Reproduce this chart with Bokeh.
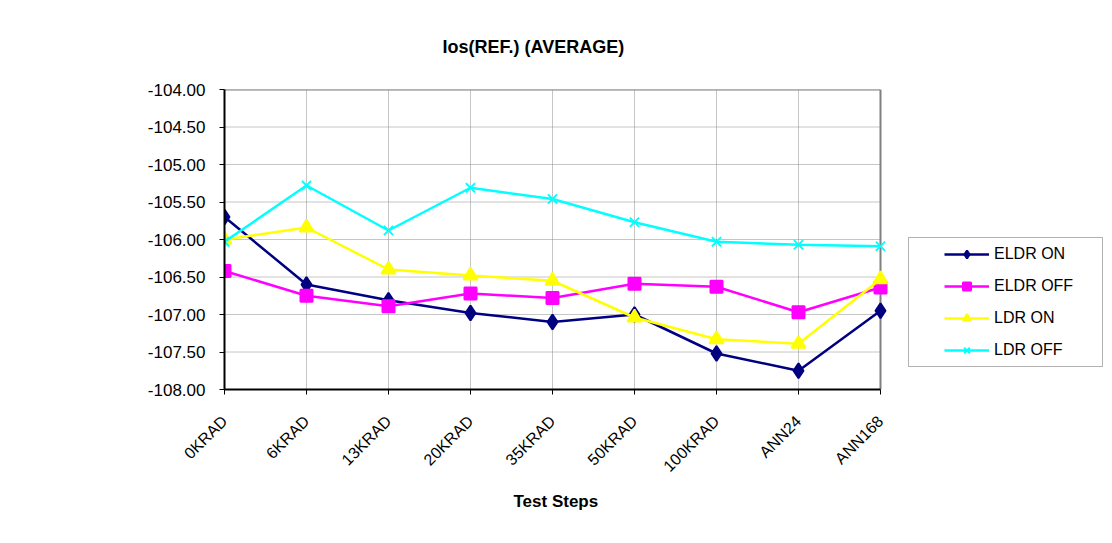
from bokeh.plotting import figure
from bokeh.models import (Range1d, FixedTicker, Legend, LegendItem, ColumnDataSource,
                          BoxAnnotation, Title)
from bokeh.embed import file_html
from bokeh.resources import INLINE
import math

steps = ["0KRAD", "6KRAD", "13KRAD", "20KRAD", "35KRAD", "50KRAD", "100KRAD", "ANN24", "ANN168"]
eldr_on = [-105.70, -106.60, -106.81, -106.98, -107.10, -107.00, -107.52, -107.75, -106.95]
eldr_off = [-106.42, -106.75, -106.89, -106.72, -106.78, -106.59, -106.63, -106.97, -106.64]
ldr_on = [-106.00, -105.84, -106.40, -106.48, -106.55, -107.04, -107.33, -107.39, -106.53]
ldr_off = [-106.03, -105.28, -105.88, -105.31, -105.46, -105.77, -106.03, -106.07, -106.09]
y_ticks = [-108.0, -107.5, -107.0, -106.5, -106.0, -105.5, -105.0, -104.5, -104.0]

FONT = "Liberation Sans"
xs = list(range(len(steps)))
x_last = len(steps) - 1
y_min, y_max = y_ticks[0], y_ticks[-1]

# frame spans plot area + legend area; data occupies 656 of 880 px
PX_PER_STEP = 82.0
FRAME_W = 880.0
p = figure(width=1112, height=543, output_backend="svg", toolbar_location=None,
           x_range=Range1d(0, FRAME_W / PX_PER_STEP), y_range=Range1d(y_min, y_max),
           min_border_left=224, min_border_right=8, min_border_top=89,
           min_border_bottom=154)
p.background_fill_color = "white"
p.border_fill_color = "white"
p.outline_line_color = None

p.title.text = "Ios(REF.) (AVERAGE)"
p.title.text_font = FONT
p.title.text_font_size = "18px"
p.title.text_font_style = "bold"
p.title.text_color = "black"
p.title.align = "left"
p.title.offset = 218
p.title.standoff = 66

# axes
p.xaxis.ticker = FixedTicker(ticks=xs)
p.xaxis.bounds = (0, x_last)
p.xaxis.major_label_overrides = {i: s for i, s in enumerate(steps)}
p.xaxis.major_label_orientation = math.pi / 4
p.xaxis.major_label_text_font = FONT
p.xaxis.major_label_text_font_size = "16px"
p.xaxis.major_label_text_color = "black"
p.xaxis.major_label_standoff = 24
p.xaxis.minor_tick_line_color = None
p.xaxis.major_tick_in = 0
p.xaxis.major_tick_out = 5
p.xaxis.axis_line_color = "black"
p.xaxis.axis_line_width = 2

xtitle = Title(text="Test Steps", align="left", offset=289, standoff=12,
               text_font=FONT, text_font_size="17px", text_font_style="bold",
               text_color="black")
p.add_layout(xtitle, "below")

p.yaxis.ticker = FixedTicker(ticks=y_ticks)
p.yaxis.major_label_overrides = {v: f"{v:.2f}" for v in y_ticks}
p.yaxis.major_label_text_font = FONT
p.yaxis.major_label_text_font_size = "17px"
p.yaxis.major_label_text_color = "black"
p.yaxis.major_label_standoff = 14
p.yaxis.minor_tick_line_color = None
p.yaxis.major_tick_in = 0
p.yaxis.major_tick_out = 5
p.yaxis.axis_line_color = "black"
p.yaxis.axis_line_width = 2

p.xgrid.grid_line_color = "#8c8c8c"
p.xgrid.grid_line_dash = "1 1"
p.ygrid.grid_line_color = None

# horizontal gridlines limited to the plot area
p.segment(x0=[0] * len(y_ticks), x1=[x_last] * len(y_ticks), y0=y_ticks, y1=y_ticks,
          line_color="#8c8c8c", line_dash="1 1", line_width=1)
# plot-area border (top and right, gray)
p.segment(x0=[0, x_last], x1=[x_last, x_last], y0=[y_max, y_min], y1=[y_max, y_max],
          line_color="#808080", line_width=2)

series = [
    ("ELDR ON", eldr_on, "#000080", "diamond", 15),
    ("ELDR OFF", eldr_off, "#FF00FF", "square", 12),
    ("LDR ON", ldr_on, "#FFFF00", "triangle", 14),
    ("LDR OFF", ldr_off, "#00FFFF", "x", 13),
]
items = []
for name, vals, color, marker, size in series:
    src = ColumnDataSource(dict(x=xs, y=vals))
    r1 = p.line("x", "y", source=src, line_color=color, line_width=2.5)
    r2 = p.scatter("x", "y", source=src, marker=marker, size=size,
                   fill_color=color, line_color=color, line_width=2)
    items.append(LegendItem(label=name, renderers=[r1, r2]))

box = BoxAnnotation(left=684, right=878, bottom=23, top=152,
                    left_units="screen", right_units="screen",
                    bottom_units="screen", top_units="screen",
                    fill_color="white", fill_alpha=1.0,
                    line_color="black", line_width=1)
p.add_layout(box)

legend = Legend(items=items, location=(720, 29), padding=0, margin=0,
                spacing=12, glyph_width=45, glyph_height=20, label_height=20,
                label_standoff=5, border_line_color=None,
                background_fill_alpha=0.0,
                label_text_font=FONT, label_text_font_size="16px",
                label_text_color="black")
p.add_layout(legend, "center")

open("out.html", "w").write(file_html(p, INLINE))
